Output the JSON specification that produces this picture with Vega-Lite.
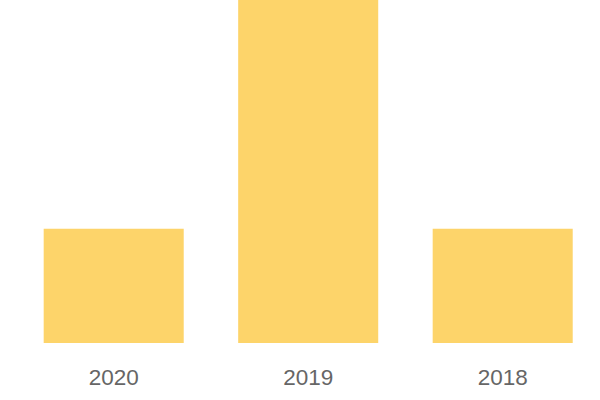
{
  "$schema": "https://vega.github.io/schema/vega-lite/v6.json",
  "width": 600,
  "height": 343,
  "padding": 0,
  "autosize": {"type": "pad"},
  "background": "white",
  "config": {"view": {"stroke": null}},
  "data": {"values": [
    {"year": "2020", "value": 1},
    {"year": "2019", "value": 3},
    {"year": "2018", "value": 1}
  ]},
  "mark": {"type": "bar", "color": "#FDD46A"},
  "encoding": {
    "x": {
      "field": "year", "type": "nominal", "sort": null,
      "scale": {"range": [0.7, 615.7], "paddingInner": 0.28, "paddingOuter": 0.221},
      "axis": {"title": null, "domain": false, "ticks": false, "labelAngle": 0,
               "labelFont": "Liberation Sans", "labelFontSize": 22.5, "labelColor": "#666666",
               "labelPadding": 23}
    },
    "y": {
      "field": "value", "type": "quantitative",
      "scale": {"domain": [0, 3], "nice": false},
      "axis": null
    }
  }
}
